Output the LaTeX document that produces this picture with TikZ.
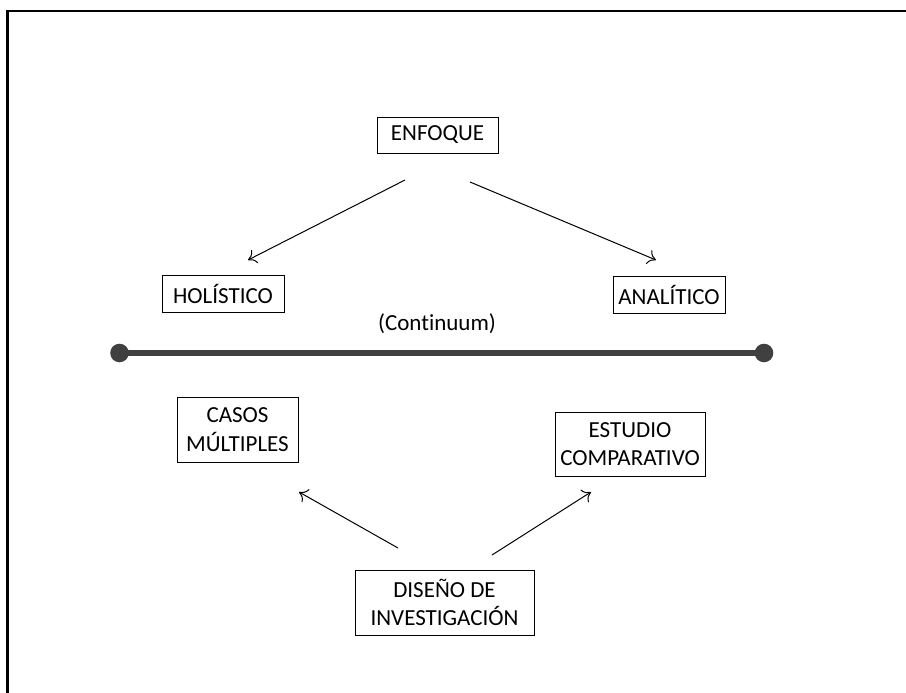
\documentclass[tikz,border=0pt]{standalone}
\usepackage{fontspec}
\setmainfont{Carlito}[Ligatures={NoCommon}]
\usetikzlibrary{arrows.meta}
\definecolor{linegray}{HTML}{404040}
\begin{document}
\begin{tikzpicture}[x=1pt,y=-1pt,
  box/.style={draw=black,line width=0.9pt,inner sep=0pt,align=center,font=\fontsize{23}{28.5}\selectfont},
  conn/.style={-{To[length=8pt,width=15pt]},line width=1pt},
  lbl/.style={font=\fontsize{23}{28}\selectfont}]
\useasboundingbox (0,0) rectangle (906,693);
\draw[line width=2.5pt] (7.5,700) -- (7.5,11) -- (910,11);
\node[box,minimum width=121pt,minimum height=36pt] (enf) at (437.5,135) {ENFOQUE};
\node[box,minimum width=122pt,minimum height=37pt] (hol) at (223,293.5) {HOLÍSTICO};
\node[box,minimum width=112pt,minimum height=37pt] (ana) at (669,294.5) {ANALÍTICO};
\node[box,minimum width=121pt,minimum height=65pt] (cas) at (237.5,429.5) {CASOS\\MÚLTIPLES};
\node[box,minimum width=150pt,minimum height=64pt] (est) at (630,444) {ESTUDIO\\COMPARATIVO};
\node[box,minimum width=179pt,minimum height=65pt] (dis) at (444.5,602.5) {DISEÑO DE\\INVESTIGACIÓN};
\node[lbl] (cont) at (437,324) {(Continuum)};
\coordinate (l1) at (119.5,353);
\coordinate (l2) at (764,353);
\draw[linegray,line width=6pt] (l1) -- (l2);
\fill[linegray] (l1) circle (9.3);
\fill[linegray] (l2) circle (9.3);
\coordinate (a1s) at (405,180); \coordinate (a1e) at (248,260);
\coordinate (a2s) at (470,182); \coordinate (a2e) at (656,260);
\coordinate (a3s) at (398,548); \coordinate (a3e) at (299,492);
\coordinate (a4s) at (492,555); \coordinate (a4e) at (591,492);
\draw[conn] (a1s) -- (a1e);
\draw[conn] (a2s) -- (a2e);
\draw[conn] (a3s) -- (a3e);
\draw[conn] (a4s) -- (a4e);
\end{tikzpicture}
\end{document}
